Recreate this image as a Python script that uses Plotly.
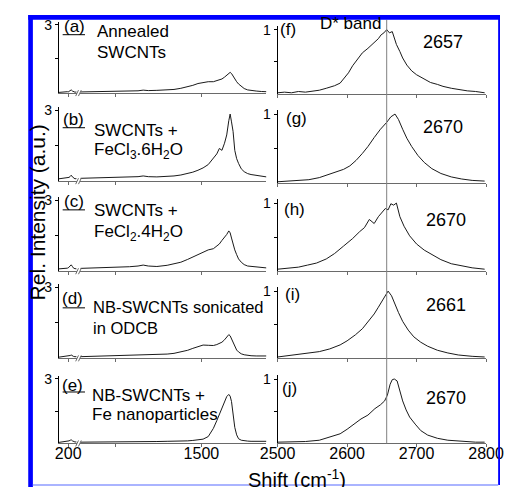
import plotly.graph_objects as go

W, H = 518, 487

# ---------------- data ----------------
row_tags_left = ["(a)", "(b)", "(c)", "(d)", "(e)"]
row_tags_right = ["(f)", "(g)", "(h)", "(i)", "(j)"]
peak_labels = ["2657", "2670", "2670", "2661", "2670"]

# low-frequency (RBM) segment, cm-1
rbm_x = [145, 155, 165, 175, 185, 195, 200, 205, 212, 218, 225, 232, 240, 250]
rbm_a = [0.03, 0.04, 0.04, 0.05, 0.05, 0.06, 0.05, 0.07, 0.10, 0.14, 0.09, 0.06, 0.04, 0.05]
rbm_b = [0.10, 0.11, 0.12, 0.11, 0.13, 0.12, 0.14, 0.16, 0.20, 0.25, 0.18, 0.12, 0.10, 0.11]
rbm_c = [0.10, 0.10, 0.11, 0.12, 0.12, 0.13, 0.14, 0.17, 0.22, 0.27, 0.20, 0.13, 0.11, 0.10]
rbm_d = [0.05, 0.06, 0.06, 0.07, 0.07, 0.08, 0.09, 0.10, 0.12, 0.14, 0.10, 0.08, 0.07, 0.07]
rbm_e = [0.05, 0.06, 0.06, 0.07, 0.07, 0.08, 0.10, 0.12, 0.15, 0.17, 0.12, 0.09, 0.07, 0.07]

# D / G band segment, cm-1
dg_x = [793, 850, 918, 972, 1027, 1080, 1130, 1160, 1190, 1240, 1300, 1340, 1380, 1420,
        1450, 1480, 1510, 1540, 1570, 1590, 1605, 1620, 1635, 1648, 1660, 1668, 1676,
        1685, 1695, 1706, 1717, 1733, 1750, 1770, 1790, 1820, 1850, 1880]
dg_a = [0.05, 0.06, 0.05, 0.07, 0.07, 0.08, 0.10, 0.13, 0.11, 0.12, 0.14, 0.16, 0.21, 0.28,
        0.34, 0.42, 0.47, 0.50, 0.50, 0.54, 0.56, 0.62, 0.70, 0.80, 0.88, 0.91, 0.86,
        0.74, 0.62, 0.50, 0.40, 0.30, 0.20, 0.14, 0.11, 0.09, 0.07, 0.06]
dg_b = [0.12, 0.13, 0.14, 0.15, 0.15, 0.17, 0.19, 0.22, 0.19, 0.18, 0.20, 0.22, 0.26, 0.32,
        0.38, 0.46, 0.56, 0.70, 0.95, 1.15, 1.38, 1.30, 1.60, 1.95, 2.55, 2.83, 2.50,
        2.10, 1.30, 0.95, 0.75, 0.52, 0.40, 0.32, 0.28, 0.24, 0.20, 0.18]
dg_c = [0.12, 0.13, 0.15, 0.17, 0.17, 0.19, 0.22, 0.26, 0.22, 0.20, 0.25, 0.30, 0.38, 0.50,
        0.60, 0.68, 0.78, 0.90, 0.95, 1.07, 1.15, 1.30, 1.42, 1.55, 1.70, 1.62, 1.40,
        1.15, 0.90, 0.70, 0.52, 0.38, 0.28, 0.22, 0.20, 0.17, 0.15, 0.14]
dg_d = [0.07, 0.08, 0.09, 0.10, 0.11, 0.12, 0.14, 0.15, 0.14, 0.15, 0.18, 0.21, 0.26, 0.34,
        0.42, 0.50, 0.56, 0.55, 0.54, 0.58, 0.62, 0.68, 0.78, 0.90, 1.00, 0.95, 0.82,
        0.66, 0.48, 0.35, 0.27, 0.19, 0.15, 0.12, 0.11, 0.10, 0.10, 0.10]
dg_e = [0.06, 0.06, 0.07, 0.07, 0.08, 0.08, 0.09, 0.09, 0.08, 0.09, 0.10, 0.10, 0.11, 0.12,
        0.14, 0.16, 0.20, 0.32, 0.70, 1.06, 1.35, 1.65, 1.95, 2.18, 2.28, 2.20, 1.95,
        1.45, 0.75, 0.40, 0.22, 0.15, 0.12, 0.11, 0.10, 0.10, 0.10, 0.10]

# D* band, normalised
f_x = [2500, 2510, 2520, 2530, 2540, 2551, 2560, 2570, 2582, 2590, 2595, 2602, 2608, 2615,
       2622, 2630, 2639, 2645, 2649, 2653, 2657, 2661, 2665, 2668, 2671, 2676, 2680, 2686,
       2693, 2700, 2711, 2720, 2730, 2738, 2750, 2760, 2773, 2785, 2798]
f_y = [0.02, 0.03, 0.02, 0.04, 0.03, 0.05, 0.06, 0.09, 0.13, 0.17, 0.24, 0.33, 0.44, 0.55,
       0.64, 0.71, 0.80, 0.86, 0.92, 0.95, 1.00, 0.95, 0.97, 0.85, 0.77, 0.66, 0.56, 0.45,
       0.36, 0.30, 0.23, 0.18, 0.15, 0.12, 0.09, 0.07, 0.05, 0.04, 0.02]
g_x = [2500, 2515, 2530, 2545, 2560, 2572, 2585, 2595, 2604, 2613, 2622, 2630, 2639, 2648,
       2657, 2663, 2669, 2674, 2680, 2686, 2693, 2702, 2711, 2722, 2735, 2750, 2765, 2780, 2798]
g_y = [0.02, 0.03, 0.04, 0.05, 0.08, 0.12, 0.16, 0.20, 0.25, 0.33, 0.43, 0.53, 0.66, 0.78,
       0.88, 0.96, 1.00, 0.92, 0.78, 0.65, 0.53, 0.40, 0.30, 0.21, 0.14, 0.09, 0.06, 0.04, 0.03]
h_x = [2500, 2515, 2530, 2543, 2556, 2570, 2582, 2595, 2608, 2618, 2625, 2632, 2639, 2645,
       2650, 2655, 2659, 2663, 2667, 2671, 2676, 2682, 2690, 2700, 2711, 2722, 2735, 2750,
       2765, 2780, 2798]
h_y = [0.03, 0.04, 0.06, 0.09, 0.12, 0.18, 0.26, 0.37, 0.48, 0.58, 0.64, 0.76, 0.70, 0.80,
       0.86, 0.92, 0.90, 0.99, 0.97, 1.00, 0.80, 0.66, 0.52, 0.40, 0.31, 0.24, 0.17, 0.11,
       0.08, 0.05, 0.03]
i_x = [2500, 2515, 2530, 2545, 2560, 2575, 2590, 2600, 2612, 2622, 2630, 2639, 2645, 2650,
       2655, 2659, 2664, 2669, 2674, 2680, 2688, 2696, 2706, 2716, 2730, 2745, 2760, 2780, 2798]
i_y = [0.02, 0.04, 0.05, 0.07, 0.10, 0.14, 0.20, 0.26, 0.35, 0.44, 0.54, 0.66, 0.76, 0.85,
       0.94, 1.00, 0.93, 0.80, 0.68, 0.55, 0.42, 0.32, 0.24, 0.18, 0.12, 0.08, 0.05, 0.03, 0.02]
j_x = [2500, 2520, 2540, 2560, 2575, 2590, 2600, 2610, 2620, 2630, 2640, 2648, 2654, 2658,
       2662, 2665, 2668, 2672, 2676, 2680, 2685, 2690, 2698, 2706, 2716, 2730, 2745, 2765,
       2785, 2798]
j_y = [0.02, 0.02, 0.03, 0.05, 0.10, 0.15, 0.22, 0.30, 0.38, 0.44, 0.54, 0.60, 0.66, 0.75,
       0.92, 0.99, 1.00, 0.97, 0.82, 0.66, 0.52, 0.41, 0.30, 0.20, 0.13, 0.08, 0.05, 0.03,
       0.02, 0.02]

rbm_series = [rbm_a, rbm_b, rbm_c, rbm_d, rbm_e]
dg_series = [dg_a, dg_b, dg_c, dg_d, dg_e]
dstar_series = [(f_x, f_y), (g_x, g_y), (h_x, h_y), (i_x, i_y), (j_x, j_y)]
vline_x = 2657

left_tick_seg1 = [200]
left_tick_seg2 = [1000, 1500]
left_ticktext_seg2 = ["", "1500"]
right_ticks = [2500, 2600, 2700, 2800]

# ---------------- layout helpers (pixels -> paper) ----------------
def fx(p):
    return p / W

def fy(p):
    return 1 - p / H

def xn(i):
    return "x" if i == 1 else f"x{i}"

def yn(i):
    return "y" if i == 1 else f"y{i}"

def xk(i):
    return "xaxis" if i == 1 else f"xaxis{i}"

def yk(i):
    return "yaxis" if i == 1 else f"yaxis{i}"

LEFT_ROWS = [(17, 89), (103, 178), (194, 269), (282, 357), (375, 443)]
RIGHT_ROWS = [(21, 90), (106, 180), (196, 269), (285, 357), (374, 443)]
SEG1 = (44, 63)
SEG2 = (67, 267)
RIGHT = (279, 503)

FONT = "Liberation Sans, Arial, sans-serif"
AX_GREY = "#6a6a6a"
TXT = 17

fig = go.Figure()
layout = dict(
    width=W, height=H, margin=dict(l=0, r=0, t=0, b=0),
    paper_bgcolor="white", plot_bgcolor="rgba(0,0,0,0)", showlegend=False,
    font=dict(family=FONT, size=16, color="black"),
)
shapes = []
annotations = []

for r in range(5):
    xa, xb, xc = 3 * r + 1, 3 * r + 2, 3 * r + 3
    yl, yr = 2 * r + 1, 2 * r + 2
    lt, lb = LEFT_ROWS[r]
    rt, rb = RIGHT_ROWS[r]
    bottom = (r == 4)

    fig.add_trace(go.Scatter(x=rbm_x, y=rbm_series[r], xaxis=xn(xa), yaxis=yn(yl),
                             mode="lines", line=dict(color="#1a1a1a", width=1), hoverinfo="skip"))
    fig.add_trace(go.Scatter(x=dg_x, y=dg_series[r], xaxis=xn(xb), yaxis=yn(yl),
                             mode="lines", line=dict(color="#1a1a1a", width=1), hoverinfo="skip"))
    dx, dy = dstar_series[r]
    fig.add_trace(go.Scatter(x=dx, y=dy, xaxis=xn(xc), yaxis=yn(yr),
                             mode="lines", line=dict(color="#1a1a1a", width=1), hoverinfo="skip"))

    common_x = dict(showline=True, linecolor=AX_GREY, linewidth=1, ticks="outside", ticklen=3,
                    tickcolor=AX_GREY, showgrid=False, zeroline=False, fixedrange=True,
                    showticklabels=bottom, ticklabelstandoff=-8,
                    tickfont=dict(size=16, family=FONT, color="black"))
    layout[xk(xa)] = dict(common_x, domain=[fx(SEG1[0]), fx(SEG1[1])], anchor=yn(yl),
                          range=[145, 250], tickmode="array", tickvals=left_tick_seg1,
                          ticktext=[str(v) for v in left_tick_seg1])
    layout[xk(xb)] = dict(common_x, domain=[fx(SEG2[0]), fx(SEG2[1])], anchor=yn(yl),
                          range=[793, 1880], tickmode="array", tickvals=left_tick_seg2,
                          ticktext=left_ticktext_seg2)
    layout[xk(xc)] = dict(common_x, domain=[fx(RIGHT[0]), fx(RIGHT[1])], anchor=yn(yr),
                          range=[2500, 2800], tickmode="array", tickvals=right_ticks,
                          ticktext=[str(v) for v in right_ticks])

    common_y = dict(showline=True, linecolor="black", linewidth=1, ticks="outside", ticklen=3,
                    tickcolor="black", showgrid=False, zeroline=False, fixedrange=True,
                    tickfont=dict(size=14, family=FONT, color="black"), tickmode="array")
    layout[yk(yl)] = dict(common_y, domain=[fy(lb), fy(lt)], anchor=xn(xa),
                          range=[0, 3.13], tickvals=[1.5, 3], ticktext=["", "3"])
    layout[yk(yr)] = dict(common_y, domain=[fy(rb), fy(rt)], anchor=xn(xc),
                          range=[0, 1.06], tickvals=[0.5, 1], ticktext=["", "1"])

    # axis-break marks
    for off in (0, 3):
        shapes.append(dict(type="line", xref="paper", yref="paper",
                           x0=fx(62 + off), y0=fy(lb + 3), x1=fx(65 + off), y1=fy(lb - 3),
                           line=dict(color=AX_GREY, width=1)))

# panel texts
left_tag_pos = [(61, 22, 30), (60, 116, 124), (60, 199, 207), (59, 297, 306), (59, 384, 391)]
left_texts = [
    [("Annealed", 83, 27, TXT), ("SWCNTs", 83, 48, TXT)],
    [("SWCNTs +", 80, 127, TXT), ("FeCl<sub>3</sub>.6H<sub>2</sub>O", 80, 148, TXT)],
    [("SWCNTs +", 80, 208, TXT), ("FeCl<sub>2</sub>.4H<sub>2</sub>O", 80, 230, TXT)],
    [("NB-SWCNTs sonicated", 78, 305, 16.5), ("in ODCB", 78, 326, 16.5)],
    [("NB-SWCNTs +", 77, 395, TXT), ("Fe nanoparticles", 77, 414, TXT)],
]
right_tag_pos = [(290, 25), (299, 115), (297, 207), (295, 292), (292, 387)]
peak_pos = [(457, 37), (457, 123), (460, 217), (460, 303), (460, 397)]

for r in range(5):
    tx, ty, uy = left_tag_pos[r]
    annotations.append(dict(text=row_tags_left[r], x=fx(tx), y=fy(ty), xref="paper", yref="paper",
                            showarrow=False, xanchor="center", yanchor="middle",
                            font=dict(size=TXT, family=FONT)))
    shapes.append(dict(type="line", xref="paper", yref="paper", x0=fx(48), x1=fx(72),
                       y0=fy(uy), y1=fy(uy), line=dict(color="black", width=1)))
    for txt, lx, ly, fs in left_texts[r]:
        annotations.append(dict(text=txt, x=fx(lx), y=fy(ly), xref="paper", yref="paper",
                                showarrow=False, xanchor="left", yanchor="middle",
                                font=dict(size=fs, family=FONT)))
    rx, ry = right_tag_pos[r]
    annotations.append(dict(text=row_tags_right[r], x=fx(rx), y=fy(ry), xref="paper", yref="paper",
                            showarrow=False, xanchor="center", yanchor="middle",
                            font=dict(size=TXT, family=FONT)))
    px_, py_ = peak_pos[r]
    annotations.append(dict(text=peak_labels[r], x=fx(px_), y=fy(py_), xref="paper", yref="paper",
                            showarrow=False, xanchor="center", yanchor="middle",
                            font=dict(size=18, family=FONT)))

annotations.append(dict(text="D* band", x=fx(322), y=fy(19), xref="paper", yref="paper",
                        showarrow=False, xanchor="left", yanchor="middle",
                        font=dict(size=TXT, family=FONT)))
annotations.append(dict(text="Shift (cm<sup>-1</sup>)", x=fx(300), y=fy(478), xref="paper",
                        yref="paper", showarrow=False, xanchor="center", yanchor="middle",
                        font=dict(size=20, family=FONT)))
annotations.append(dict(text="Rel. Intensity (a.u.)", x=fx(21), y=fy(210), xref="paper",
                        yref="paper", showarrow=False, xanchor="center", yanchor="middle",
                        textangle=-90, font=dict(size=21, family=FONT)))

# vertical reference line at the (f) peak position
shapes.append(dict(type="line", xref="x3", yref="paper", x0=vline_x, x1=vline_x,
                   y0=fy(443), y1=fy(15), line=dict(color="#808080", width=1), layer="above"))

# blue frame
blue = "#0000ff"
shapes.append(dict(type="rect", xref="paper", yref="paper", x0=fx(11), x1=fx(16), y0=0, y1=fy(10),
                   fillcolor=blue, line=dict(width=0), layer="above"))
shapes.append(dict(type="rect", xref="paper", yref="paper", x0=fx(11), x1=1, y0=fy(15), y1=fy(10),
                   fillcolor=blue, line=dict(width=0), layer="above"))
shapes.append(dict(type="rect", xref="paper", yref="paper", x0=fx(516), x1=1, y0=fy(485), y1=fy(10),
                   fillcolor=blue, line=dict(width=0), layer="above"))
shapes.append(dict(type="rect", xref="paper", yref="paper", x0=fx(16), x1=fx(516), y0=fy(486),
                   y1=fy(484), fillcolor="#aab4ff", line=dict(width=0), layer="above"))

layout["shapes"] = shapes
layout["annotations"] = annotations
fig.update_layout(**layout)
fig.write_html("out.html")
